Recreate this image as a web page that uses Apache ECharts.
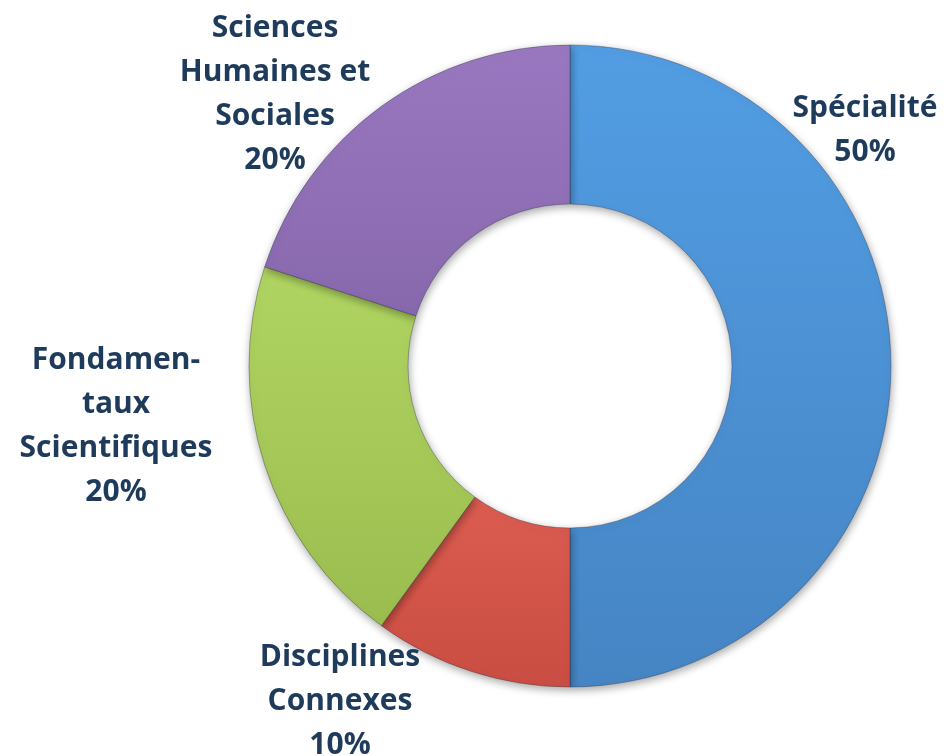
<!DOCTYPE html>
<html>
<head>
<meta charset="utf-8">
<script src="https://cdn.jsdelivr.net/npm/echarts@6/dist/echarts.min.js"></script>
<style>
  html, body { margin: 0; padding: 0; background: #ffffff; }
  #chart { width: 947px; height: 756px; }
</style>
</head>
<body>
<div id="chart"></div>
<script>
// Répartition des enseignements (en %)
const categories = ['Spécialité', 'Disciplines Connexes', 'Fondamentaux Scientifiques', 'Sciences Humaines et Sociales'];
const shares = [50, 10, 20, 20];
// Texte des étiquettes, avec leurs retours à la ligne
const labelTexts = ['Spécialité', 'Disciplines\nConnexes', 'Fondamen-\ntaux\nScientifiques', 'Sciences\nHumaines et\nSociales'];

// Couleurs des secteurs (haut -> bas du dégradé)
const sliceColors = [
  ['#529de3', '#4685c4'],
  ['#dc5c50', '#c94d42'],
  ['#b0d461', '#9bbd50'],
  ['#9a78c1', '#8868ad']
];

// Emplacement des étiquettes (centre de chaque bloc de texte)
const labelAnchors = [
  [865, 130],
  [340, 701],
  [116, 426],
  [275, 94]
];

function grad(c) {
  return new echarts.graphic.LinearGradient(0, 0, 0, 1, [
    { offset: 0, color: c[0] },
    { offset: 1, color: c[1] }
  ]);
}

const chart = echarts.init(document.getElementById('chart'), null, { renderer: 'canvas' });

chart.setOption({
  backgroundColor: '#ffffff',
  animation: false,
  series: [{
    type: 'pie',
    center: [570, 366],
    radius: [162, 321],
    startAngle: 90,
    clockwise: true,
    avoidLabelOverlap: false,
    itemStyle: {
      borderColor: 'rgba(40,40,60,0.35)',
      borderWidth: 1,
      shadowBlur: 8,
      shadowOffsetX: 1,
      shadowOffsetY: 3,
      shadowColor: 'rgba(0,0,0,0.35)'
    },
    label: {
      show: true,
      position: 'outside',
      formatter: function (p) { return labelTexts[p.dataIndex] + '\n' + p.value + '%'; },
      fontFamily: '"Open Sans", Lato, sans-serif',
      fontWeight: 'bold',
      fontSize: 30,
      lineHeight: 44,
      color: '#1f3b5c',
      align: 'center'
    },
    labelLine: { show: false },
    labelLayout: function (params) {
      const a = labelAnchors[params.dataIndex];
      return { x: a[0], y: a[1], align: 'center', verticalAlign: 'middle', hideOverlap: false };
    },
    data: categories.map(function (name, i) {
      return { name: name, value: shares[i], itemStyle: { color: grad(sliceColors[i]) } };
    })
  }]
});
</script>
</body>
</html>
